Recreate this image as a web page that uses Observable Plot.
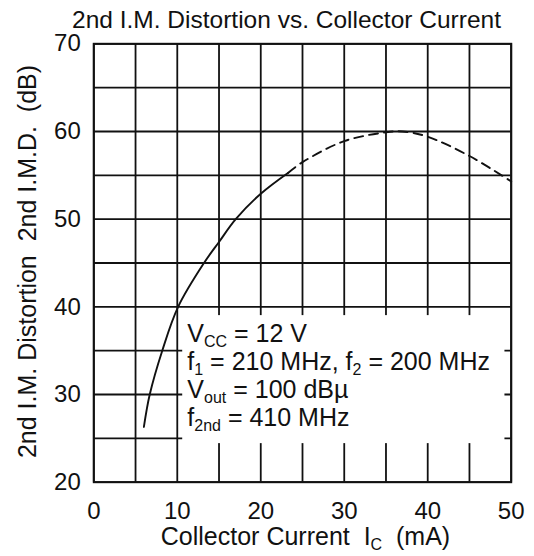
<!DOCTYPE html>
<html>
<head>
<meta charset="utf-8">
<script src="https://cdn.jsdelivr.net/npm/d3@7"></script>
<script src="https://cdn.jsdelivr.net/npm/@observablehq/plot@0.6"></script>
<style>
  html, body { margin: 0; padding: 0; background: #ffffff; overflow: hidden; }
  #chart svg text { white-space: pre; }
</style>
</head>
<body>
<div id="chart"></div>
<script>
// ---- data ----
const TITLE = "2nd I.M. Distortion vs. Collector Current";
const X_LABEL = "Collector Current  I_{C}  (mA)";
const Y_LABEL = "2nd I.M. Distortion  2nd I.M.D.  (dB)";
const X_TICKS = [0, 10, 20, 30, 40, 50];
const Y_TICKS = [20, 30, 40, 50, 60, 70];
const X_GRID = [0, 5, 10, 15, 20, 25, 30, 35, 40, 45, 50];
const Y_GRID = [20, 25, 30, 35, 40, 45, 50, 55, 60, 65, 70];
// measured curve (solid part)
const IC_SOLID  = [6, 6.7, 8.2, 10.1, 13.2, 15, 17, 20, 23.3];
const IMD_SOLID = [26.3, 30, 35, 40, 45, 47.4, 50, 52.9, 55.3];
// extrapolated curve (dashed part)
const IC_DASH  = [23.3, 25, 30, 35, 37, 40, 45, 50];
const IMD_DASH = [55.3, 56.5, 58.9, 59.9, 60.0, 59.4, 57.2, 54.3];
// conditions box text
const NOTES = [
  "V_{CC} = 12 V",
  "f_{1} = 210 MHz, f_{2} = 200 MHz",
  "V_{out} = 100 dBµ",
  "f_{2nd} = 410 MHz"
];

const solid = IC_SOLID.map((x, i) => ({x, y: IMD_SOLID[i]}));
const dashed = IC_DASH.map((x, i) => ({x, y: IMD_DASH[i]}));

const FONT = "'Liberation Sans', Arial, Helvetica, sans-serif";
const INK = "#111";

const chart = Plot.plot({
  width: 534,
  height: 556,
  marginLeft: 93.3,
  marginRight: 23.3,
  marginTop: 43.3,
  marginBottom: 74.3,
  style: {fontFamily: FONT, fontSize: "24px", background: "#ffffff", color: INK},
  x: {domain: [0, 50], ticks: X_TICKS, tickSize: 0, tickPadding: 20, label: null},
  y: {domain: [20, 70], ticks: Y_TICKS, tickSize: 0, tickPadding: 13, label: null},
  marks: [
    Plot.ruleX(X_GRID, {stroke: INK, strokeWidth: 1.8}),
    Plot.ruleY(Y_GRID, {stroke: INK, strokeWidth: 1.8}),
    // white panel behind the conditions text
    Plot.rect([0], {x1: 10.65, x2: 49.25, y1: 24.4, y2: 39.0, fill: "#ffffff"}),
    Plot.frame({stroke: INK, strokeWidth: 2}),
    Plot.line(solid, {x: "x", y: "y", curve: "catmull-rom", stroke: INK, strokeWidth: 1.9}),
    Plot.line(dashed, {x: "x", y: "y", curve: "catmull-rom", stroke: INK, strokeWidth: 1.9, strokeDasharray: "9,6"}),
    ...NOTES.map((t, i) => Plot.text([t], {
      x: 11.2, y: 38, dy: i * 28, text: d => d,
      textAnchor: "start", lineAnchor: "top", fontSize: 25, fill: INK
    })),
    Plot.text([TITLE], {frameAnchor: "top", text: d => d, dx: -16, dy: -16.3,
      textAnchor: "middle", lineAnchor: "bottom", fontSize: 24.5, fill: INK}),
    Plot.text([X_LABEL], {frameAnchor: "bottom", text: d => d, dx: 3, dy: 62.3,
      textAnchor: "middle", lineAnchor: "bottom", fontSize: 25, fill: INK}),
    Plot.text([Y_LABEL], {frameAnchor: "left", text: d => d, dx: -58.3, dy: -1.5,
      rotate: -90, textAnchor: "middle", lineAnchor: "bottom", fontSize: 25, fill: INK})
  ]
});

// convert "_{...}" markers to subscript tspans
d3.select(chart).selectAll("text").each(function () {
  const el = this;
  const s = el.textContent;
  if (!s.includes("_{")) return;
  el.textContent = "";
  const re = /_\{([^}]*)\}/g;
  let last = 0, m, shifted = false;
  const add = (txt, sub) => {
    const t = document.createElementNS("http://www.w3.org/2000/svg", "tspan");
    t.textContent = txt;
    if (sub) { t.setAttribute("font-size", "16"); t.setAttribute("dy", "5"); shifted = true; }
    else if (shifted) { t.setAttribute("dy", "-5"); shifted = false; }
    el.appendChild(t);
  };
  while ((m = re.exec(s))) {
    if (m.index > last) add(s.slice(last, m.index), false);
    add(m[1], true);
    last = m.index + m[0].length;
  }
  if (last < s.length) add(s.slice(last), false);
});

document.getElementById("chart").appendChild(chart);
</script>
</body>
</html>
